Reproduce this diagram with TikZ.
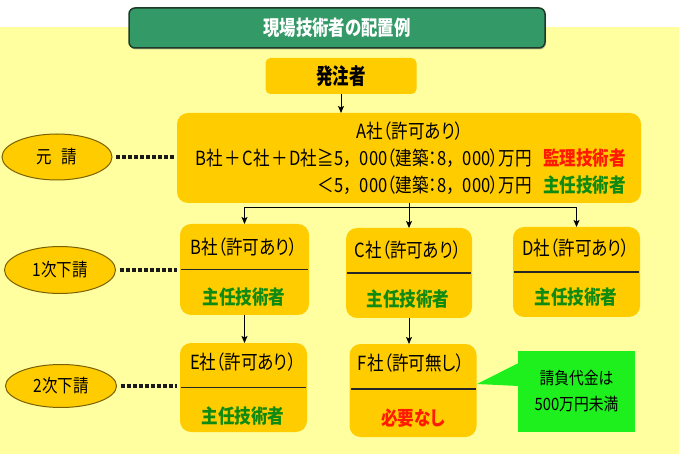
\documentclass[tikz,border=0pt]{standalone}
\usepackage{fontspec}
\newfontfamily\jp[FakeStretch=0.85,RawFeature=+palt]{Noto Sans CJK JP}
\newfontfamily\jpf[FakeStretch=0.85]{Noto Sans CJK JP}
\newfontfamily\jpt[FakeStretch=0.80,RawFeature=+palt]{Noto Sans CJK JP}
\newfontfamily\jph[FakeStretch=0.75,RawFeature=+palt]{Noto Sans CJK JP}
\newfontfamily\jpn[FakeStretch=0.87,RawFeature=+palt]{Noto Sans CJK JP}
\usetikzlibrary{arrows.meta,shapes.geometric,calc,shadows}
\definecolor{bgy}{HTML}{FFFF9F}
\definecolor{boxy}{HTML}{FFCC00}
\definecolor{tgreen}{HTML}{339966}
\definecolor{tborder}{HTML}{1E3A28}
\definecolor{dgreen}{HTML}{108A10}
\definecolor{rred}{HTML}{FF1A00}
\definecolor{cgreen}{HTML}{1EF01E}
\definecolor{ovalline}{HTML}{7A6000}
\newcommand\bodyfont{\jp\fontsize{19.5}{22}\selectfont}
\newcommand\boldbody{\jp\bfseries\fontsize{19.5}{22}\selectfont}
\newcommand\titlefont{\jpt\bfseries\fontsize{20.5}{24}\selectfont}
\newcommand\orderfont{\jph\bfseries\fontsize{22}{24}\selectfont}
\newcommand\ovalfont{\jp\fontsize{18.2}{22}\selectfont}
\newcommand\notefont{\jpn\fontsize{17}{26}\selectfont}
\newcommand\fwc{{\jpf ，}}
\newcommand\pls{\hspace{1.5pt}＋\hspace{1.5pt}}
\begin{document}
\begin{tikzpicture}[x=1pt,y=-1pt,
  every node/.style={inner sep=0pt,outer sep=0pt},
  txt/.style={font=\bodyfont,text=black},
  redtxt/.style={font=\boldbody,text=rred},
  greentxt/.style={font=\boldbody,text=dgreen},
  titlebox/.style={rectangle,rounded corners=6pt,fill=tgreen,draw=tborder,line width=1.5pt,
    text=white,font=\titlefont,
    drop shadow={shadow xshift=1pt,shadow yshift=-1.5pt,opacity=.45}},
  orderbox/.style={rectangle,rounded corners=5pt,fill=boxy,font=\orderfont},
  bigbox/.style={rectangle,rounded corners=11pt,fill=boxy},
  subbox/.style={rectangle,rounded corners=11pt,fill=boxy},
  oval/.style={ellipse,fill=boxy,draw=ovalline,line width=1pt,font=\ovalfont},
  divider/.style={draw=black!85,line width=1.5pt,shorten <=1pt,shorten >=1pt},
  dotline/.style={draw=black!90,line width=3.6pt,dash pattern=on 4pt off 2pt,shorten <=4pt,shorten >=3pt},
  conn/.style={draw=black,line width=1pt,-{Stealth[length=7pt,width=6pt,inset=1.5pt]}},
  note/.style={rectangle,fill=cgreen,align=center,font=\notefont}
]
\useasboundingbox (0,0) rectangle (680,454);
\fill[bgy] (0,27) rectangle (679,454);

% title
\node[titlebox,minimum width=416pt,minimum height=40pt] (title) at (337,28) {現場技術者の配置例};

% orderer
\node[orderbox,minimum width=151pt,minimum height=36pt] (hachu) at (341,76) {発注者};

% prime contractor
\node[bigbox,minimum width=464pt,minimum height=90pt] (A) at (409,158) {};
\node[txt] (Atitle) at (410,131) {A社（許可あり）};
\node[txt,anchor=east] (Al2) at (532,158) {B社\pls{}C社\pls{}D社≧5\fwc 000（建築：8\fwc 000）万円};
\node[redtxt,anchor=west] (Ar2) at (543,158) {監理技術者};
\node[txt,anchor=east] (Al3) at (532,185) {＜5\fwc 000（建築：8\fwc 000）万円};
\node[greentxt,anchor=west] (Ar3) at (543,185) {主任技術者};

% first-tier
\node[subbox,minimum width=129pt,minimum height=91pt] (B) at (244.5,269.5) {};
\node[subbox,minimum width=126pt,minimum height=90pt] (C) at (409,273) {};
\node[subbox,minimum width=127pt,minimum height=90pt] (D) at (576.5,272) {};
% second-tier
\node[subbox,minimum width=127pt,minimum height=89pt] (E) at (243.5,387.5) {};
\node[subbox,minimum width=127pt,minimum height=93pt] (F) at (413,390.5) {};

\draw[divider] (B.west) -- (B.east);
\draw[divider] (C.west) -- (C.east);
\draw[divider] (D.west) -- (D.east);
\draw[divider] (E.west) -- (E.east);
\draw[divider] ($(F.west)+(0,-1.5)$) -- ($(F.east)+(0,-1.5)$);

\node[txt] (Bt) at (244,247) {B社（許可あり）};
\node[greentxt] (Bb) at (244,297) {主任技術者};
\node[txt] (Ct) at (408,250) {C社（許可あり）};
\node[greentxt] (Cb) at (408,299) {主任技術者};
\node[txt] (Dt) at (576,248) {D社（許可あり）};
\node[greentxt] (Db) at (576,297) {主任技術者};
\node[txt] (Et) at (243,362) {E社（許可あり）};
\node[greentxt] (Eb) at (243,416) {主任技術者};
\node[txt] (Ft) at (411,363) {F社（許可無し）};
\node[redtxt] (Fb) at (413,418) {必要なし};

% level ellipses
\node[oval,minimum width=110pt,minimum height=46pt] (L0) at (57,157) {元\hspace{10pt}請};
\node[oval,minimum width=111pt,minimum height=47pt] (L1) at (60,270) {1次下請};
\node[oval,minimum width=111pt,minimum height=43pt] (L2) at (61,386) {2次下請};

\draw[dotline] (L0.east) -- (L0.east -| A.west);
\draw[dotline] (L1.east) -- (L1.east -| B.west);
\draw[dotline] (L2.east) -- (L2.east -| E.west);

% connectors
\draw[conn] (hachu.south) -- (hachu.south |- A.north);
\draw[conn] (A.south) -- ++(0,5) -| (B.north);
\draw[conn] (A.south) -- ++(0,5) -| (D.north);
\draw[conn] (A.south) -- (C.north);
\draw[conn] (B.south) -- (B.south |- E.north);
\draw[conn] (C.south) -- (C.south |- F.north);

% callout
\node[note,minimum width=117pt,minimum height=81pt] (note) at (576.5,391.5) {請負代金は\\500万円未満};
\fill[cgreen] ($(note.north west)+(0.5,12)$) -- ($(F.east)+(0.5,-6.5)$) -- ($(note.north west)+(0.5,35)$) -- cycle;
\end{tikzpicture}
\end{document}
